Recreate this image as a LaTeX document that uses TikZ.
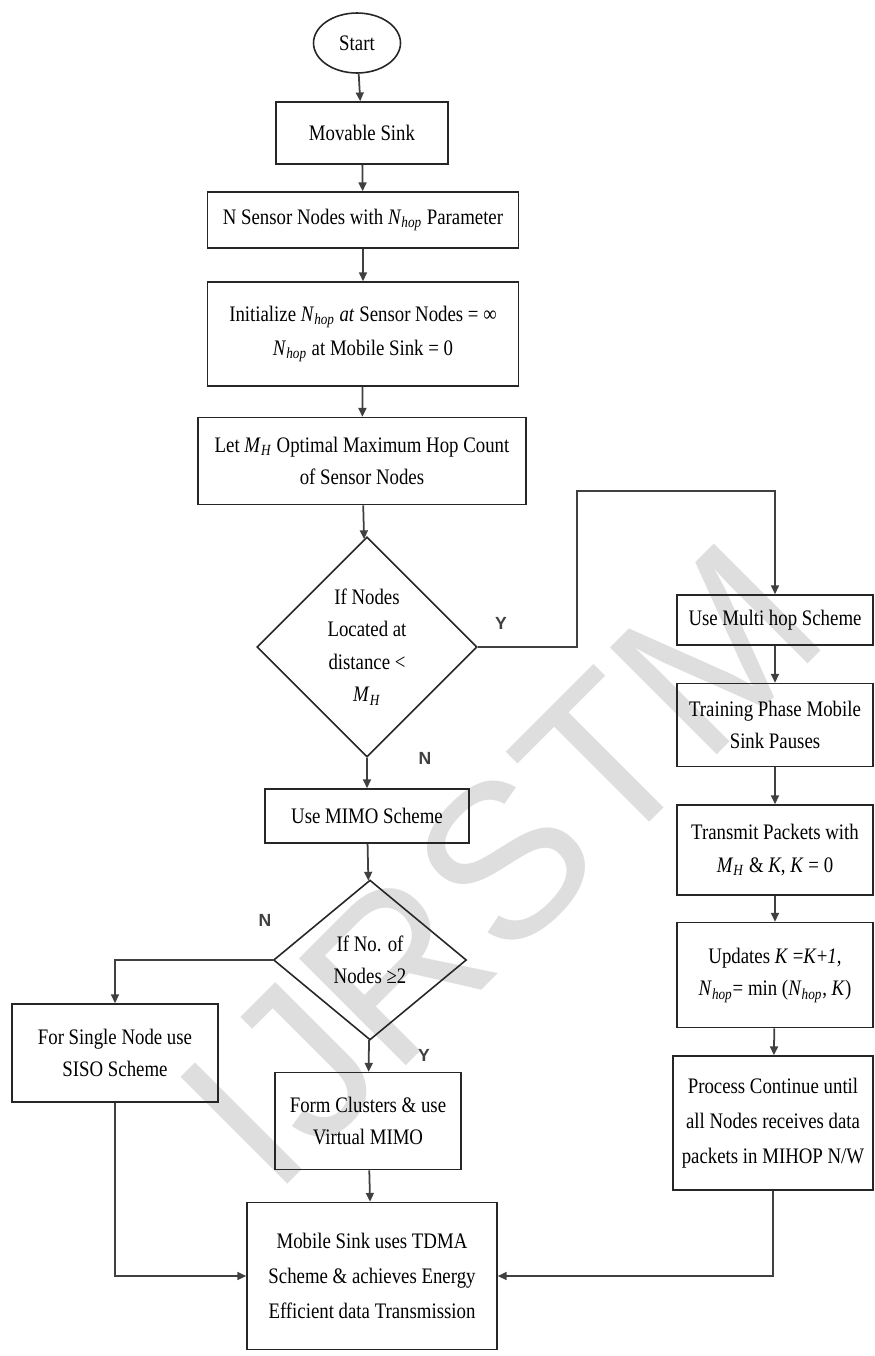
\documentclass[tikz,border=0pt]{standalone}
\usepackage{fontspec}
\setmainfont{Liberation Serif}[FakeStretch=0.85]
\newfontfamily\yesnofont{Liberation Sans}
\usetikzlibrary{shapes.geometric,arrows.meta}
\newcommand{\Nhop}{\textit{N}\textsubscript{\textit{hop}}}
\newcommand{\MH}{\textit{M}\textsubscript{\textit{H}}}

\begin{document}
\begin{tikzpicture}[
  x=0.02cm, y=-0.02cm,
  every node/.style={font=\fontsize{12.6}{18.5}\selectfont, align=center, inner sep=1pt},
  box/.style={draw=black!85, line width=0.9pt, rectangle},
  decision/.style={draw=black!85, line width=0.9pt, diamond, inner sep=0pt},
  terminal/.style={draw=black!85, line width=0.9pt, ellipse, inner sep=0pt},
  yesno/.style={font=\yesnofont\bfseries\fontsize{10}{12}\selectfont, text=black!75},
  watermark/.style={font=\yesnofont\fontsize{125}{125}\selectfont, text=black!13, rotate=45},
  flow/.style={draw=black!75, line width=1pt, -{Triangle[length=5pt,width=4.5pt]}},
  link/.style={draw=black!75, line width=1pt}
]
\useasboundingbox (0,0) rectangle (875,1356);

% Watermark
\node[watermark] (wm) at (500,865) {IJRSTM};

% Main column
\node[terminal, minimum width=1.74cm, minimum height=1.2cm] (start) at (357,43) {Start};
\node[box, minimum width=3.44cm, minimum height=1.24cm] (movable) at (362,133) {Movable Sink};
\node[box, minimum width=6.22cm, minimum height=1.12cm] (nsensor) at (363,220) {N Sensor Nodes with \Nhop{} Parameter};
\node[box, minimum width=6.22cm, minimum height=2.08cm, font=\fontsize{12.6}{19.5}\selectfont] (init) at (363,334)
  {Initialize \Nhop{} \textit{at} Sensor Nodes = ∞\\\Nhop{} at Mobile Sink = 0};
\node[box, minimum width=6.56cm, minimum height=1.74cm] (letmh) at (362,461)
  {Let \MH{} Optimal Maximum Hop Count\\of Sensor Nodes};
\node[decision, minimum width=4.4cm, minimum height=4.4cm] (dist) at (367,647)
  {If Nodes\\Located at\\distance <\\\MH};
\node[box, minimum width=4.08cm, minimum height=1.08cm] (mimo) at (367,816) {Use MIMO Scheme};
\node[decision, minimum width=3.86cm, minimum height=3.2cm] (count) at (370,960)
  {If No. of\\Nodes ≥2};
\node[box, minimum width=4.12cm, minimum height=1.96cm] (siso) at (115,1053)
  {For Single Node use\\SISO Scheme};
\node[box, minimum width=3.72cm, minimum height=1.94cm] (clusters) at (368,1121)
  {Form Clusters \& use\\Virtual MIMO};
\node[box, minimum width=5cm, minimum height=2.94cm, font=\fontsize{12.6}{20}\selectfont] (tdma) at (372,1276)
  {Mobile Sink uses TDMA\\Scheme \& achieves Energy\\Efficient data Transmission};

% Multi hop column
\node[box, minimum width=3.92cm, minimum height=1cm] (multihop) at (775,620) {Use Multi hop Scheme};
\node[box, minimum width=3.92cm, minimum height=1.66cm] (training) at (775,725)
  {Training Phase Mobile\\Sink Pauses};
\node[box, minimum width=3.92cm, minimum height=1.8cm] (transmit) at (775,850)
  {Transmit Packets with\\\MH{} \& \textit{K}, \textit{K} = 0};
\node[box, minimum width=3.92cm, minimum height=2.1cm] (updates) at (775,975)
  {Updates \textit{K} =\textit{K}+\textit{1},\\\Nhop= min (\Nhop, \textit{K})};
\node[box, minimum width=4cm, minimum height=2.68cm, font=\fontsize{12.6}{20}\selectfont] (process) at (773,1123)
  {Process Continue until\\all Nodes receives data\\packets in MIHOP N/W};

% Y / N labels
\node[yesno] (y1) at (501,623) {Y};
\node[yesno] (n1) at (425,758) {N};
\node[yesno] (n2) at (265,920) {N};
\node[yesno] (y2) at (424,1055) {Y};

% Connectors
\coordinate (ybend) at (577,491);
\draw[flow] (start) -- (movable);
\draw[flow] (movable) -- (nsensor);
\draw[flow] (nsensor) -- (init);
\draw[flow] (init) -- (letmh);
\draw[flow] (letmh) -- (dist);
\draw[flow] (dist) -- (mimo);
\draw[flow] (mimo) -- (count);
\draw[flow] (dist.east) -| (ybend) -| (multihop.north);
\draw[flow] (count.west) -| (siso.north);
\draw[flow] (count) -- (clusters);
\draw[flow] (clusters) -- (tdma);
\draw[flow] (multihop) -- (training);
\draw[flow] (training) -- (transmit);
\draw[flow] (transmit) -- (updates);
\draw[flow] (updates) -- (process);
\draw[flow] (siso.south) |- (tdma.west);
\draw[flow] (process.south) |- (tdma.east);

\end{tikzpicture}
\end{document}
